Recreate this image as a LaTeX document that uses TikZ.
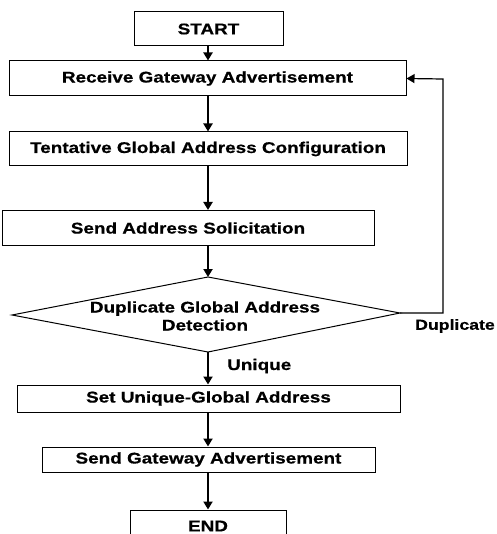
\documentclass[tikz,border=0pt]{standalone}
\usepackage{fontspec}
\newfontfamily\diafont[FakeStretch=1.22,FakeBold=0.6]{Liberation Sans}
\usetikzlibrary{arrows.meta,calc}
\begin{document}
\begin{tikzpicture}[x=1pt,y=-1pt,
  box/.style={draw,line width=1pt,inner sep=0pt,align=center,font=\diafont\bfseries\fontsize{15.5}{17}\selectfont},
  lbl/.style={inner sep=0pt,font=\diafont\bfseries\fontsize{15.5}{17}\selectfont},
  flow/.style={line width=2pt,-{Triangle[width=9pt,length=8pt]}},
  back/.style={line width=1.2pt,-{Triangle[width=9pt,length=8pt]}}]
\useasboundingbox (0,0) rectangle (496,534);
\clip (0,0) rectangle (496,534);
\node[box,minimum width=149pt,minimum height=34pt] (start) at (208.5,29) {START};
\node[box,minimum width=397pt,minimum height=35pt] (rga) at (207.5,78.5) {Receive Gateway Advertisement};
\node[box,minimum width=398pt,minimum height=34pt] (tgac) at (208,149) {Tentative Global Address Configuration};
\node[box,minimum width=372pt,minimum height=35pt] (sas) at (188,228) {Send Address Solicitation};
\coordinate (dt) at (208,277);
\coordinate (dr) at (400,313);
\coordinate (db) at (208,352);
\coordinate (dl) at (12,315);
\draw[line width=1pt] (dt) -- (dr) -- (db) -- (dl) -- cycle;
\node[lbl,align=center,font=\diafont\bfseries\fontsize{15.5}{18}\selectfont] (dgad) at (205,316) {Duplicate Global Address\\Detection};
\node[box,minimum width=383pt,minimum height=27pt] (sug) at (208.5,398.5) {Set Unique-Global Address};
\node[box,minimum width=333pt,minimum height=25pt] (sga) at (208.5,459.5) {Send Gateway Advertisement};
\node[box,minimum width=156pt,minimum height=32pt] (endn) at (208,526) {END};
\node[lbl,anchor=west] (uniq) at (227,366) {Unique};
\node[lbl,anchor=east,font=\diafont\bfseries\fontsize{14.5}{17}\selectfont] (dup) at (495,326) {Duplicate};
\coordinate (fb) at (443,79);
\draw[flow] (start.south -| dt) -- (rga.north -| dt);
\draw[flow] (rga.south -| dt) -- (tgac.north -| dt);
\draw[flow] (tgac.south -| dt) -- (sas.north -| dt);
\draw[flow] (sas.south -| dt) -- (dt);
\draw[flow] (db) -- (sug.north -| db);
\draw[flow] (sug.south -| db) -- (sga.north -| db);
\draw[flow] (sga.south -| db) -- (endn.north -| db);
\draw[back] (dr) -- (dr -| fb) -- (fb) -- (rga.east);
\end{tikzpicture}
\end{document}
